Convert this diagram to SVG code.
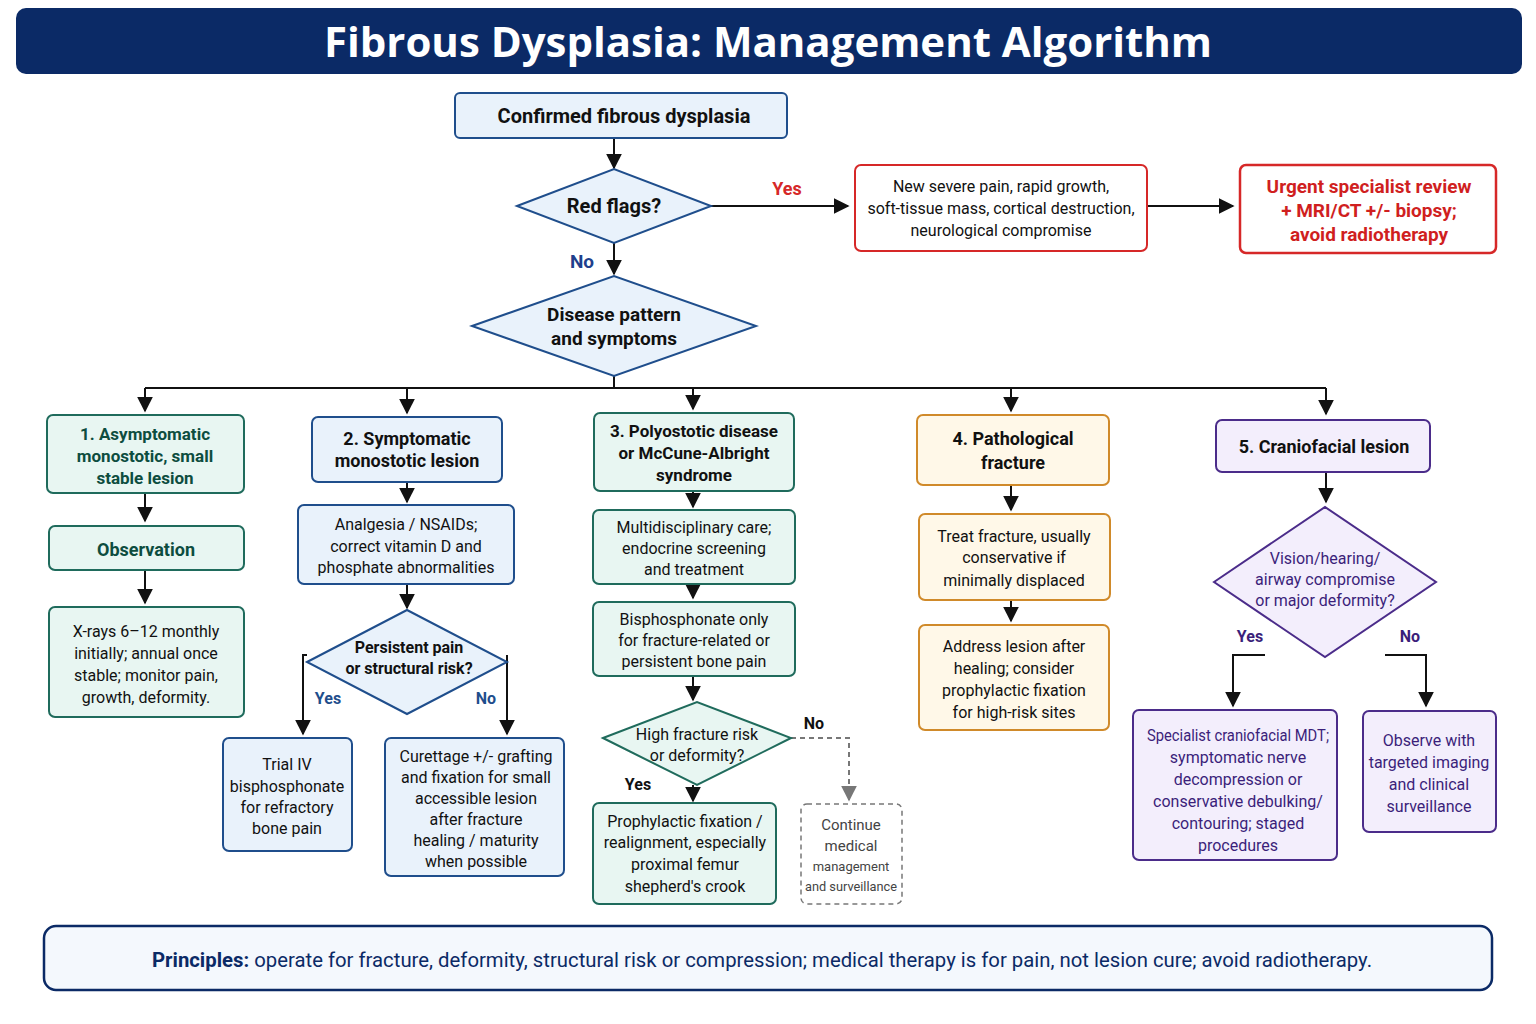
<svg xmlns="http://www.w3.org/2000/svg" width="1536" height="1024" viewBox="0 0 1536 1024">
<defs>
<marker id="ah" viewBox="0 0 10 10" refX="9" refY="5" markerWidth="8" markerHeight="8" orient="auto"><path d="M0,0 L10,5 L0,10 z" fill="#111"/></marker>
<marker id="ahg" viewBox="0 0 10 10" refX="9" refY="5" markerWidth="8" markerHeight="8" orient="auto"><path d="M0,0 L10,5 L0,10 z" fill="#777"/></marker>
<style>
text{font-family:Roboto,"Liberation Sans",sans-serif;font-size:16px;fill:#111;text-anchor:middle}
.b{font-weight:bold}
.blue rect,.blue polygon{fill:#e9f2fb;stroke:#1f4e8c;stroke-width:2}
.red rect{fill:#fff;stroke:#d62828;stroke-width:2}
.grn rect{fill:#e8f6f2;stroke:#1f6b5c;stroke-width:2}
.org rect{fill:#fff8e8;stroke:#d08a2a;stroke-width:2}
.pur rect,.pur polygon{fill:#f3eefc;stroke:#4b2c8a;stroke-width:2}
.gt{fill:#0d4d3f;font-weight:bold;font-size:17px}
.pt{fill:#3b1f7a}
.c{stroke:#111;stroke-width:2;fill:none;marker-end:url(#ah)}
.l{stroke:#111;stroke-width:2;fill:none}
</style>
</defs>
<rect x="16" y="8" width="1506" height="66" rx="10" fill="#0b2a66"/>
<text x="768" y="57" class="b" textLength="888" lengthAdjust="spacingAndGlyphs" style="font-family:'Open Sans','Liberation Sans',sans-serif;font-size:42px;fill:#fff">Fibrous Dysplasia: Management Algorithm</text>

<g id="connectors">
<path class="c" d="M614,138 V168"/>
<path class="c" d="M710,206 H848"/>
<path class="c" d="M1147,206 H1233"/>
<path class="c" d="M614,243 V274"/>
<path class="l" d="M614,376 V388 M145,388 H1326"/>
<path class="c" d="M145,388 V411"/><path class="c" d="M407,388 V413"/><path class="c" d="M693,388 V409"/><path class="c" d="M1011,388 V411"/><path class="c" d="M1326,388 V414"/>
<path class="c" d="M145,493 V521"/><path class="c" d="M145,570 V603"/>
<path class="c" d="M407,482 V502"/><path class="c" d="M407,584 V608"/>
<path class="c" d="M307,655 H303 V734"/><path class="c" d="M507,655 V734"/>
<path class="c" d="M693,491 V507"/><path class="c" d="M693,584 V598"/><path class="c" d="M693,676 V700"/>
<path class="c" d="M693,785 V801"/>
<path d="M791,738 H849 V800" style="stroke:#777;stroke-width:2;fill:none;stroke-dasharray:5,4;marker-end:url(#ahg)"/>
<path class="c" d="M1011,485 V510"/><path class="c" d="M1011,600 V621"/>
<path class="c" d="M1326,472 V502"/>
<path class="c" d="M1265,655 H1233 V706"/><path class="c" d="M1385,655 H1426 V706"/>
<text x="787" y="195" class="b" style="fill:#d62828;font-size:18px">Yes</text>
<text x="582" y="268" class="b" style="fill:#1f3f8c;font-size:19px">No</text>
<text x="328" y="704" class="b" style="fill:#1f4e8c">Yes</text>
<text x="486" y="704" class="b" style="fill:#1f4e8c">No</text>
<text x="638" y="790" class="b">Yes</text>
<text x="814" y="729" class="b">No</text>
<text x="1250" y="642" class="b" style="fill:#3b1f7a">Yes</text>
<text x="1410" y="642" class="b" style="fill:#3b1f7a">No</text>
</g>

<g id="n_confirmed" class="blue"><rect x="455" y="93" width="332" height="45" rx="5"/><text x="624" y="123" class="b" style="font-size:20px">Confirmed fibrous dysplasia</text></g>
<g id="n_redflags" class="blue"><polygon points="517,206 614,169 711,206 614,243"/><text x="614" y="213" class="b" style="font-size:20px">Red flags?</text></g>
<g id="n_redsigns" class="red"><rect x="855" y="165" width="292" height="86" rx="6"/><text x="1001" y="192">New severe pain, rapid growth,</text><text x="1001" y="214">soft-tissue mass, cortical destruction,</text><text x="1001" y="236">neurological compromise</text></g>
<g id="n_urgent" class="red"><rect x="1240" y="165" width="256" height="88" rx="6" style="stroke-width:2.5"/><text x="1369" y="193" class="b" style="fill:#d01f1f;font-size:19px">Urgent specialist review</text><text x="1369" y="217" class="b" style="fill:#d01f1f;font-size:19px">+ MRI/CT +/- biopsy;</text><text x="1369" y="241" class="b" style="fill:#d01f1f;font-size:19px">avoid radiotherapy</text></g>
<g id="n_pattern" class="blue"><polygon points="472,326 614,276 756,326 614,376"/><text x="614" y="321" class="b" style="font-size:19px">Disease pattern</text><text x="614" y="345" class="b" style="font-size:19px">and symptoms</text></g>

<g id="n_c1" class="grn"><rect x="47" y="415" width="197" height="78" rx="6"/><text x="145" y="440" class="gt">1. Asymptomatic</text><text x="145" y="462" class="gt">monostotic, small</text><text x="145" y="484" class="gt">stable lesion</text></g>
<g id="n_obs" class="grn"><rect x="49" y="526" width="195" height="44" rx="6"/><text x="146" y="556" class="gt" style="font-size:18px">Observation</text></g>
<g id="n_xray" class="grn"><rect x="49" y="607" width="195" height="110" rx="6"/><text x="146" y="637">X-rays 6–12 monthly</text><text x="146" y="659">initially; annual once</text><text x="146" y="681">stable; monitor pain,</text><text x="146" y="703">growth, deformity.</text></g>

<g id="n_c2" class="blue"><rect x="312" y="417" width="190" height="65" rx="6"/><text x="407" y="445" class="b" style="font-size:18px">2. Symptomatic</text><text x="407" y="467" class="b" style="font-size:18px">monostotic lesion</text></g>
<g id="n_analg" class="blue"><rect x="298" y="505" width="216" height="79" rx="6"/><text x="406" y="530">Analgesia / NSAIDs;</text><text x="406" y="552">correct vitamin D and</text><text x="406" y="573">phosphate abnormalities</text></g>
<g id="n_persist" class="blue"><polygon points="307,662 407,610 507,662 407,714"/><text x="409" y="653" class="b">Persistent pain</text><text x="409" y="674" class="b">or structural risk?</text></g>
<g id="n_trial" class="blue"><rect x="223" y="738" width="129" height="113" rx="6"/><text x="287" y="770">Trial IV</text><text x="287" y="792">bisphosphonate</text><text x="287" y="813">for refractory</text><text x="287" y="834">bone pain</text></g>
<g id="n_curet" class="blue"><rect x="385" y="738" width="179" height="138" rx="6"/><text x="476" y="762">Curettage +/- grafting</text><text x="476" y="783">and fixation for small</text><text x="476" y="804">accessible lesion</text><text x="476" y="825">after fracture</text><text x="476" y="846">healing / maturity</text><text x="476" y="867">when possible</text></g>

<g id="n_c3" class="grn"><rect x="594" y="413" width="200" height="78" rx="6"/><text x="694" y="437" class="b" style="font-size:17px">3. Polyostotic disease</text><text x="694" y="459" class="b" style="font-size:17px">or McCune-Albright</text><text x="694" y="481" class="b" style="font-size:17px">syndrome</text></g>
<g id="n_mdt" class="grn"><rect x="593" y="510" width="202" height="74" rx="6"/><text x="694" y="533">Multidisciplinary care;</text><text x="694" y="554">endocrine screening</text><text x="694" y="575">and treatment</text></g>
<g id="n_bisph" class="grn"><rect x="593" y="602" width="202" height="74" rx="6"/><text x="694" y="625">Bisphosphonate only</text><text x="694" y="646">for fracture-related or</text><text x="694" y="667">persistent bone pain</text></g>
<g id="n_highrisk" class="grn"><polygon points="603,738 697,702 791,738 697,785" style="fill:#e8f6f2;stroke:#1f6b5c;stroke-width:2"/><text x="697" y="740">High fracture risk</text><text x="697" y="761">or deformity?</text></g>
<g id="n_prophy" class="grn"><rect x="593" y="803" width="183" height="101" rx="6"/><text x="685" y="827">Prophylactic fixation /</text><text x="685" y="848">realignment, especially</text><text x="685" y="870">proximal femur</text><text x="685" y="892">shepherd's crook</text></g>
<g id="n_cont"><rect x="801" y="804" width="101" height="100" rx="6" style="fill:#fff;stroke:#777;stroke-width:1.5;stroke-dasharray:5,4"/><text x="851" y="830" style="fill:#444;font-size:15px">Continue</text><text x="851" y="851" style="fill:#444;font-size:15px">medical</text><text x="851" y="871" style="fill:#444;font-size:13px">management</text><text x="851" y="891" style="fill:#444;font-size:13px" textLength="92" lengthAdjust="spacingAndGlyphs">and surveillance</text></g>

<g id="n_c4" class="org"><rect x="917" y="415" width="192" height="70" rx="6"/><text x="1013" y="445" class="b" style="font-size:18px">4. Pathological</text><text x="1013" y="469" class="b" style="font-size:18px">fracture</text></g>
<g id="n_treat" class="org"><rect x="919" y="514" width="191" height="86" rx="6"/><text x="1014" y="542">Treat fracture, usually</text><text x="1014" y="563">conservative if</text><text x="1014" y="586">minimally displaced</text></g>
<g id="n_address" class="org"><rect x="919" y="625" width="190" height="105" rx="6"/><text x="1014" y="652">Address lesion after</text><text x="1014" y="674">healing; consider</text><text x="1014" y="696">prophylactic fixation</text><text x="1014" y="718">for high-risk sites</text></g>

<g id="n_c5" class="pur"><rect x="1216" y="420" width="214" height="52" rx="6"/><text x="1324" y="453" class="b" style="font-size:18px">5. Craniofacial lesion</text></g>
<g id="n_vision" class="pur"><polygon points="1214,582 1325,507 1436,582 1325,657"/><text x="1325" y="564" class="pt">Vision/hearing/</text><text x="1325" y="585" class="pt">airway compromise</text><text x="1325" y="606" class="pt">or major deformity?</text></g>
<g id="n_spec" class="pur"><rect x="1133" y="710" width="204" height="150" rx="6"/><text x="1238" y="741" class="pt" textLength="182" lengthAdjust="spacingAndGlyphs">Specialist craniofacial MDT;</text><text x="1238" y="763" class="pt">symptomatic nerve</text><text x="1238" y="785" class="pt">decompression or</text><text x="1238" y="807" class="pt">conservative debulking/</text><text x="1238" y="829" class="pt">contouring; staged</text><text x="1238" y="851" class="pt">procedures</text></g>
<g id="n_observe" class="pur"><rect x="1363" y="711" width="133" height="121" rx="6"/><text x="1429" y="746" class="pt">Observe with</text><text x="1429" y="768" class="pt">targeted imaging</text><text x="1429" y="790" class="pt">and clinical</text><text x="1429" y="812" class="pt">surveillance</text></g>

<g id="n_principles"><rect x="44" y="926" width="1448" height="64" rx="12" style="fill:#f4f8fd;stroke:#0b2a66;stroke-width:2.5"/><text x="762" y="967" textLength="1220" lengthAdjust="spacingAndGlyphs" style="font-size:21px;fill:#0b2a66"><tspan class="b">Principles:</tspan> operate for fracture, deformity, structural risk or compression; medical therapy is for pain, not lesion cure; avoid radiotherapy.</text></g>
</svg>
